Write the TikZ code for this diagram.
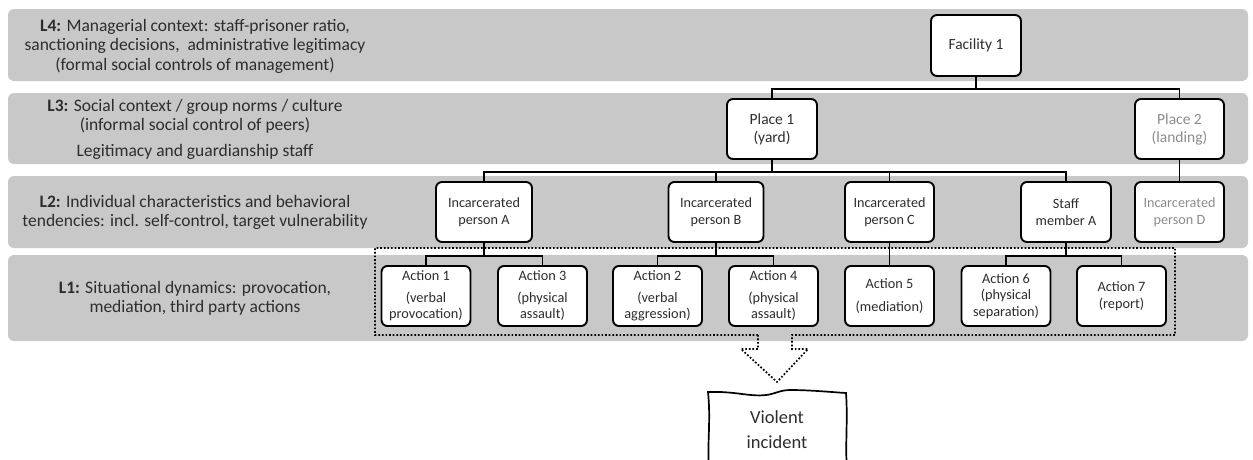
\documentclass[tikz,border=0pt]{standalone}
\usepackage{fontspec}
\setmainfont{Carlito}

\definecolor{bandgray}{RGB}{200,200,200}
\definecolor{inkgray}{RGB}{45,45,45}
\definecolor{fadegray}{RGB}{140,140,140}

\begin{document}
\begin{tikzpicture}[x=1pt,y=-1pt,
    band/.style={fill=bandgray,rounded corners=6pt},
    bandtext/.style={align=center,text=inkgray,font=\fontsize{17.5}{19.5}\selectfont},
    unitbox/.style={draw=black,line width=1.9pt,rounded corners=6pt,fill=white,align=center,text=inkgray,inner sep=0pt,minimum height=60pt},
    bigbox/.style={unitbox,font=\fontsize{15.5}{18}\selectfont,minimum width=90pt},
    personbox/.style={unitbox,font=\fontsize{14.2}{17}\selectfont},
    actionbox/.style={unitbox,font=\fontsize{14.3}{16.5}\selectfont,minimum width=89pt},
    faded/.style={text=fadegray},
    link/.style={line width=1.9pt},
    dotline/.style={line width=1.7pt,dash pattern=on 1.7pt off 1.9pt}]
    \useasboundingbox (0,0) rectangle (1253,459);
    \clip (0,0) rectangle (1253,459);

    % Bands
    \fill[band] (8,9) rectangle (1248,81);
    \fill[band] (8,93) rectangle (1248,164);
    \fill[band] (8,176) rectangle (1248,248);
    \fill[band] (8,255) rectangle (1248,341);

    \node[bandtext] (l4) at (195,46) {\textbf{L4:} Managerial context: staff-prisoner ratio,\\sanctioning decisions,\ \ administrative legitimacy\\(formal social controls of management)};
    \node[bandtext] (l3) at (195,129) {\textbf{L3:} Social context / group norms / culture\\(informal social control of peers)\\[6pt]Legitimacy and guardianship staff};
    \node[bandtext] (l2) at (195,212.5) {\textbf{L2:} Individual characteristics and behavioral\\tendencies: incl. self-control, target vulnerability};
    \node[bandtext] (l1) at (195,298.5) {\textbf{L1:} Situational dynamics: provocation,\\mediation, third party actions};

    % Facility and places
    \node[bigbox,minimum height=61pt] (fac) at (976,45.5) {Facility 1};
    \node[bigbox] (pl1) at (772,129) {Place 1\\(yard)};
    \node[bigbox,faded,minimum width=89pt] (pl2) at (1179.5,129) {Place 2\\(landing)};

    % Persons
    \node[personbox,minimum width=96pt] (pa) at (484,212) {Incarcerated\\person A};
    \node[personbox,minimum width=95pt] (pb) at (716,212) {Incarcerated\\person B};
    \node[personbox,minimum width=89pt] (pc) at (889.5,212) {Incarcerated\\person C};
    \node[personbox,minimum width=90pt] (sa) at (1066,212) {Staff\\member A};
    \node[personbox,faded,minimum width=89pt] (pd) at (1179.5,212) {Incarcerated\\person D};

    % Actions
    \node[actionbox] (a1) at (426,296) {Action 1\\[5pt](verbal\\provocation)};
    \node[actionbox] (a3) at (542.5,296) {Action 3\\[5pt](physical\\assault)};
    \node[actionbox] (a2) at (657.5,296) {Action 2\\[5pt](verbal\\aggression)};
    \node[actionbox] (a4) at (773.5,296) {Action 4\\[5pt](physical\\assault)};
    \node[actionbox] (a5) at (889.5,296) {Action 5\\[6pt](mediation)};
    \node[actionbox] (a6) at (1006,296) {Action 6\\(physical\\separation)};
    \node[actionbox] (a7) at (1121.5,296) {Action 7\\(report)};

    % Links
    \draw[link] (fac.south) -- ++(0,12) -| (pl1.north);
    \draw[link] (fac.south) -- ++(0,12) -| (pl2.north);
    \foreach \kid in {pa,pb,pc,sa}
        \draw[link] (pl1.south) -- ++(0,12) -| (\kid.north);
    \draw[link] (pl2.south) -- (pd.north);
    \draw[link] (pa.south) -- ++(0,13) -| (a1.north);
    \draw[link] (pa.south) -- ++(0,13) -| (a3.north);
    \draw[link] (pb.south) -- ++(0,13) -| (a2.north);
    \draw[link] (pb.south) -- ++(0,13) -| (a4.north);
    \draw[link] (pc.south) -- (a5.north);
    \draw[link] (sa.south) -- ++(0,13) -| (a6.north);
    \draw[link] (sa.south) -- ++(0,13) -| (a7.north);

    % Dotted frame with arrow
    \draw[dotline] (758,335) -- (375,335) -- (375,248) -- (1175,248) -- (1175,335) -- (792,335)
        -- (792,349) -- (808,349) -- (777,382) -- (741,349) -- (758,349) -- cycle;

    % Violent incident
    \node[align=center,text=inkgray,font=\fontsize{18.5}{25}\selectfont] (vi) at (777,430) {Violent\\incident};
    \draw[line width=1.7pt] (709,470) .. controls (707,445) and (711,420) .. (708,392)
        .. controls (735,391) and (750,397) .. (766,395)
        .. controls (775,394) and (780,390) .. (790,390)
        .. controls (810,390) and (830,392) .. (846,393)
        .. controls (848,420) and (845,445) .. (847,470);
\end{tikzpicture}
\end{document}
